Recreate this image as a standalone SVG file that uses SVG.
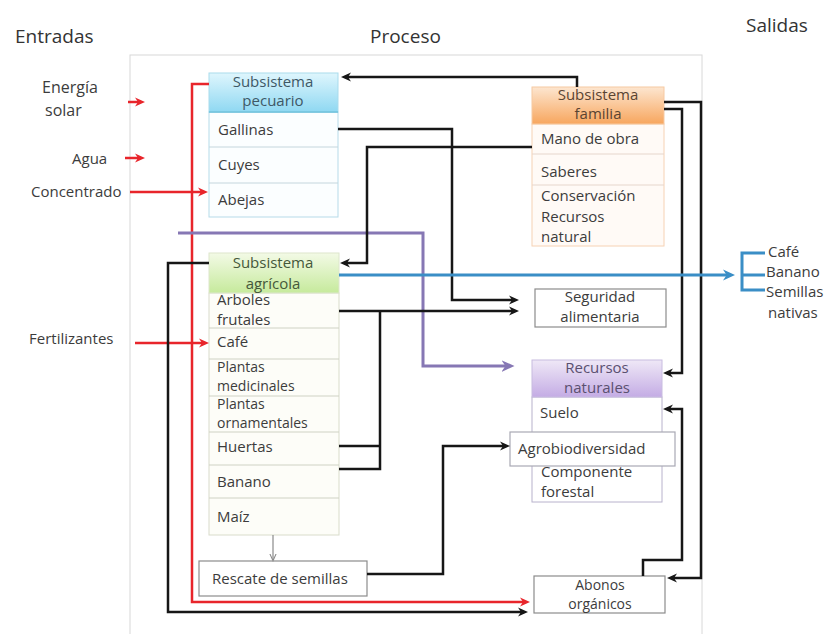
<svg xmlns="http://www.w3.org/2000/svg" width="827" height="634" viewBox="0 0 827 634">
  <style>
    .t { font-family: "Open Sans", "Liberation Sans", sans-serif; font-size: 15px; fill: #3c3c3c; }
    .s { font-size: 14px; }
    .c { text-anchor: middle; }
    .title { font-family: "Open Sans", "Liberation Sans", sans-serif; font-size: 19px; fill: #333; }
    .sep { stroke-width: 1; fill: none; }
    .blk { fill: none; stroke: #161616; stroke-width: 2.5; }
    .red { fill: none; stroke: #e8252b; stroke-width: 2.5; }
    .pur { fill: none; stroke: #8677b4; stroke-width: 3; }
    .blu { fill: none; stroke: #3a8ec6; stroke-width: 3; }
    .box { fill: #fff; stroke: #8c8c8c; stroke-width: 1.2; }
  </style>
  <defs>
    <linearGradient id="gPec" x1="0" y1="0" x2="0" y2="1">
      <stop offset="0" stop-color="#dff6fd"/><stop offset="1" stop-color="#8fd8f2"/>
    </linearGradient>
    <linearGradient id="gFam" x1="0" y1="0" x2="0" y2="1">
      <stop offset="0" stop-color="#fde6d0"/><stop offset="1" stop-color="#f7a65e"/>
    </linearGradient>
    <linearGradient id="gAgr" x1="0" y1="0" x2="0" y2="1">
      <stop offset="0" stop-color="#f3fae6"/><stop offset="1" stop-color="#c6ea9c"/>
    </linearGradient>
    <linearGradient id="gRec" x1="0" y1="0" x2="0" y2="1">
      <stop offset="0" stop-color="#efe8f7"/><stop offset="1" stop-color="#c4ace4"/>
    </linearGradient>
    <marker id="ab" viewBox="0 0 10 10" refX="6" refY="5" markerWidth="10" markerHeight="10" markerUnits="userSpaceOnUse" orient="auto">
      <path d="M0,0.5 L10,5 L0,9.5 L3,5 z" fill="#161616"/>
    </marker>
    <marker id="ar" viewBox="0 0 10 10" refX="6" refY="5" markerWidth="10" markerHeight="10" markerUnits="userSpaceOnUse" orient="auto">
      <path d="M0,0.5 L10,5 L0,9.5 L3,5 z" fill="#e8252b"/>
    </marker>
    <marker id="ap" viewBox="0 0 10 10" refX="5" refY="5" markerWidth="13" markerHeight="13" markerUnits="userSpaceOnUse" orient="auto">
      <path d="M0,0.5 L10,5 L0,9.5 L3,5 z" fill="#8677b4"/>
    </marker>
    <marker id="au" viewBox="0 0 10 10" refX="5" refY="5" markerWidth="12" markerHeight="12" markerUnits="userSpaceOnUse" orient="auto">
      <path d="M0,0.5 L10,5 L0,9.5 L3,5 z" fill="#3a8ec6"/>
    </marker>
    <marker id="ag" viewBox="0 0 10 10" refX="8" refY="5" markerWidth="8" markerHeight="8" markerUnits="userSpaceOnUse" orient="auto">
      <path d="M0,1 L9,5 L0,9" fill="none" stroke="#8a8a8a" stroke-width="1.3"/>
    </marker>
  </defs>

  <rect width="827" height="634" fill="#fff"/>

  <!-- process frame -->
  <rect x="130" y="55" width="572" height="600" fill="none" stroke="#d8d8d8" stroke-width="1"/>

  <!-- column titles -->
  <text class="title" x="15" y="43">Entradas</text>
  <text class="title" x="370" y="43">Proceso</text>
  <text class="title" x="746" y="32">Salidas</text>

  <!-- inputs -->
  <g id="in-energia">
    <text class="t" x="42" y="93" style="font-size:16px">Energía</text>
    <text class="t" x="45" y="116" style="font-size:16px">solar</text>
  </g>
  <g id="in-agua"><text class="t" x="72" y="164">Agua</text></g>
  <g id="in-concentrado"><text class="t" x="31" y="197">Concentrado</text></g>
  <g id="in-fertilizantes"><text class="t" x="29" y="344">Fertilizantes</text></g>

  <!-- Subsistema pecuario -->
  <g id="pecuario">
    <rect x="209" y="112" width="129" height="105" fill="#fbfeff" stroke="#b6dbe9"/>
    <rect x="209" y="73" width="129" height="39" fill="url(#gPec)" stroke="#a9dbec"/>
    <line x1="209" y1="112" x2="338" y2="112" stroke="#6ec2dd" stroke-width="1.5"/>
    <line class="sep" x1="209" y1="147" x2="338" y2="147" stroke="#c4d6dd"/>
    <line class="sep" x1="209" y1="183" x2="338" y2="183" stroke="#c4d6dd"/>
    <text class="t c" x="273" y="87" style="fill:#3e5866">Subsistema</text>
    <text class="t c" x="273" y="106" style="fill:#3e5866">pecuario</text>
    <text class="t" x="218" y="135">Gallinas</text>
    <text class="t" x="218" y="170">Cuyes</text>
    <text class="t" x="218" y="205">Abejas</text>
  </g>

  <!-- Subsistema familia -->
  <g id="familia">
    <rect x="532" y="124" width="132" height="122" fill="#fffaf6" stroke="#f6d2b4"/>
    <rect x="532" y="87" width="132" height="37" fill="url(#gFam)" stroke="#f6c9a2"/>
    <line class="sep" x1="532" y1="154" x2="664" y2="154" stroke="#e6d6cc"/>
    <line class="sep" x1="532" y1="185" x2="664" y2="185" stroke="#e6d6cc"/>
    <text class="t c" x="598" y="100" style="fill:#5a4432">Subsistema</text>
    <text class="t c" x="598" y="119" style="fill:#5a4432">familia</text>
    <text class="t" x="541" y="144">Mano de obra</text>
    <text class="t" x="541" y="177">Saberes</text>
    <text class="t" x="541" y="201">Conservación</text>
    <text class="t" x="541" y="222">Recursos</text>
    <text class="t" x="541" y="242">natural</text>
  </g>

  <!-- Subsistema agrícola -->
  <g id="agricola">
    <rect x="209" y="293" width="130" height="242" fill="#fdfdf8" stroke="#d9dccb"/>
    <rect x="209" y="253" width="130" height="40" fill="url(#gAgr)" stroke="#dde6cc"/>
    <line class="sep" x1="209" y1="328" x2="339" y2="328" stroke="#cfd2c4"/>
    <line class="sep" x1="209" y1="359" x2="339" y2="359" stroke="#cfd2c4"/>
    <line class="sep" x1="209" y1="396" x2="339" y2="396" stroke="#cfd2c4"/>
    <line class="sep" x1="209" y1="432" x2="339" y2="432" stroke="#cfd2c4"/>
    <line class="sep" x1="209" y1="465" x2="339" y2="465" stroke="#cfd2c4"/>
    <line class="sep" x1="209" y1="498" x2="339" y2="498" stroke="#cfd2c4"/>
    <text class="t c" x="273" y="268" style="fill:#45583a">Subsistema</text>
    <text class="t c" x="273" y="289" style="fill:#45583a">agrícola</text>
    <text class="t" x="217" y="305">Arboles</text>
    <text class="t" x="217" y="325">frutales</text>
    <text class="t" x="217" y="347">Café</text>
    <text class="t s" x="217" y="372">Plantas</text>
    <text class="t s" x="217" y="391">medicinales</text>
    <text class="t s" x="217" y="409">Plantas</text>
    <text class="t s" x="217" y="428">ornamentales</text>
    <text class="t" x="217" y="452">Huertas</text>
    <text class="t" x="217" y="487">Banano</text>
    <text class="t" x="217" y="522">Maíz</text>
  </g>

  <!-- Seguridad alimentaria -->
  <g id="seguridad">
    <rect class="box" x="535" y="289" width="131" height="38"/>
    <text class="t c" x="600" y="302">Seguridad</text>
    <text class="t c" x="600" y="322">alimentaria</text>
  </g>

  <!-- Recursos naturales -->
  <g id="recursos">
    <rect x="532" y="397" width="130" height="105" fill="#fff" stroke="#b8b2cc"/>
    <rect x="532" y="360" width="130" height="37" fill="url(#gRec)" stroke="#c8bce0"/>
    <text class="t c" x="597" y="373" style="fill:#5a5070">Recursos</text>
    <text class="t c" x="597" y="393" style="fill:#5a5070">naturales</text>
    <text class="t" x="540" y="418">Suelo</text>
    <text class="t" x="541" y="477">Componente</text>
    <text class="t" x="541" y="497">forestal</text>
  </g>
  <g id="agrobiodiversidad">
    <rect x="510" y="432" width="165" height="34" fill="#fff" stroke="#a9a9b4" stroke-width="1.2"/>
    <text class="t" x="518" y="454">Agrobiodiversidad</text>
  </g>

  <!-- Rescate de semillas -->
  <g id="rescate">
    <rect class="box" x="199" y="561" width="168" height="35"/>
    <text class="t" x="212" y="584">Rescate de semillas</text>
  </g>

  <!-- Abonos orgánicos -->
  <g id="abonos">
    <rect class="box" x="534" y="576" width="131" height="37"/>
    <text class="t s c" x="600" y="590">Abonos</text>
    <text class="t s c" x="600" y="609">orgánicos</text>
  </g>

  <!-- outputs -->
  <g id="salidas">
    <text class="t" x="768" y="257">Café</text>
    <text class="t" x="766" y="277">Banano</text>
    <text class="t" x="766" y="297">Semillas</text>
    <text class="t" x="768" y="318">nativas</text>
  </g>

  <g id="connectors">
    <!-- external inputs -->
    <path class="red" d="M128,102 H141" marker-end="url(#ar)"/>
    <path class="red" d="M125,158 H141" marker-end="url(#ar)"/>
    <path class="red" d="M130,192 H204" marker-end="url(#ar)"/>
    <path class="red" d="M135,343 H205" marker-end="url(#ar)"/>
    <path class="red" d="M209,84 H192 V602 H526" marker-end="url(#ar)"/>

    <!-- purple flow to natural resources -->
    <path class="pur" d="M178,233 H423 V366 H508" marker-end="url(#ap)"/>

    <!-- family links -->
    <path class="blk" d="M577,87 V77 H345" marker-end="url(#ab)"/>
    <path class="blk" d="M532,147 H367 V263 H344" marker-end="url(#ab)"/>
    <path class="blk" d="M664,102 H701 V578 H671" marker-end="url(#ab)"/>
    <path class="blk" d="M664,109 H682 V373 H667" marker-end="url(#ab)"/>
    <path class="blk" d="M643,576 V560 H682 V409 H667" marker-end="url(#ab)"/>

    <!-- food security -->
    <path class="blk" d="M338,129 H452 V300 H515" marker-end="url(#ab)"/>
    <path class="blk" d="M339,311 H515" marker-end="url(#ab)"/>
    <path class="blk" d="M339,469 H380 V311"/>
    <path class="blk" d="M339,446 H380"/>

    <!-- agricultural residues to compost -->
    <path class="blk" d="M209,263 H168 V612 H524" marker-end="url(#ab)"/>

    <!-- seeds -->
    <path d="M273,535 V560" fill="none" stroke="#8a8a8a" stroke-width="1.2" marker-end="url(#ag)"/>
    <path class="blk" d="M367,574 H443 V446 H506" marker-end="url(#ab)"/>

    <!-- outputs -->
    <path class="blu" d="M339,275 H729" marker-end="url(#au)"/>
    <path class="blu" d="M765,253 H742 V290 H765 M742,275 H765"/>
  </g>
</svg>
